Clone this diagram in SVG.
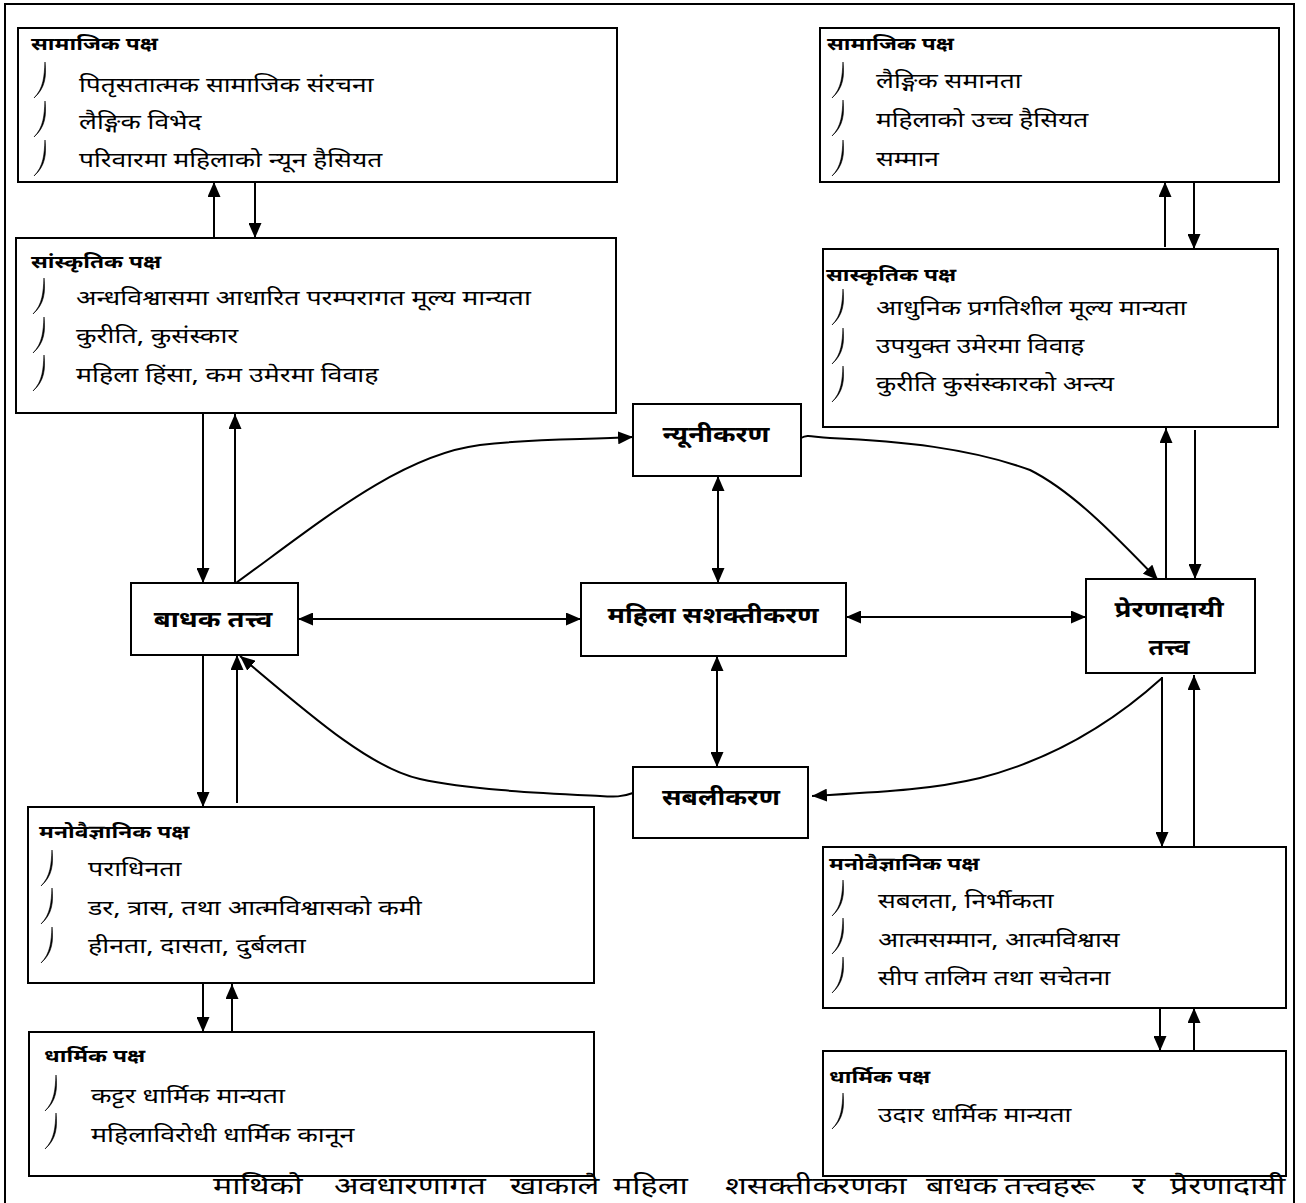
<svg xmlns="http://www.w3.org/2000/svg" width="1306" height="1203" viewBox="0 0 1306 1203">
<style>
.box{fill:#fff;stroke:#000;stroke-width:2}
.t{font-family:"Noto Sans Devanagari","Lohit Devanagari","FreeSans","Noto Sans",sans-serif;font-size:20px;fill:#000}
.h{font-family:"Noto Sans Devanagari","Lohit Devanagari","FreeSans","Noto Sans",sans-serif;font-size:18px;font-weight:bold;fill:#000}
.c{font-family:"Noto Sans Devanagari","Lohit Devanagari","FreeSans","Noto Sans",sans-serif;font-size:22px;font-weight:bold;fill:#000;text-anchor:middle}
.b{font-family:"Noto Sans Devanagari","Lohit Devanagari","FreeSans","Noto Sans",sans-serif;font-size:24px;fill:#000}
.ln{fill:none;stroke:#000;stroke-width:2}
.bul{fill:#000;stroke:#000;stroke-width:0.6}
</style>
<defs>
<marker id="a" viewBox="0 0 15 13" refX="15" refY="6.5" markerWidth="15" markerHeight="13" markerUnits="userSpaceOnUse" orient="auto-start-reverse"><path d="M0,0 L15,6.5 L0,13 z" fill="#000"/></marker>
<path id="bu" d="M11,0 C12.5,14 11.5,26 0,36 C9.8,26 10.2,14 11,0 z" class="bul"/>
</defs>
<rect x="0" y="0" width="1306" height="1203" fill="#fff"/>
<path d="M5,1203 V4 H1294 V1203" class="ln"/>

<g id="connectors">
<path d="M214,238 V182" class="ln" marker-end="url(#a)"/>
<path d="M255,182 V238" class="ln" marker-end="url(#a)"/>
<path d="M1165,247 V182" class="ln" marker-end="url(#a)"/>
<path d="M1194,182 V249" class="ln" marker-end="url(#a)"/>
<path d="M203,413 V583" class="ln" marker-end="url(#a)"/>
<path d="M235,583 V414" class="ln" marker-end="url(#a)"/>
<path d="M203,655 V807" class="ln" marker-end="url(#a)"/>
<path d="M237,803 V655" class="ln" marker-end="url(#a)"/>
<path d="M203,983 V1032" class="ln" marker-end="url(#a)"/>
<path d="M232,1032 V984" class="ln" marker-end="url(#a)"/>
<path d="M1166,578 V428" class="ln" marker-end="url(#a)"/>
<path d="M1195,430 V579" class="ln" marker-end="url(#a)"/>
<path d="M1162,677 V847" class="ln" marker-end="url(#a)"/>
<path d="M1194,847 V675" class="ln" marker-end="url(#a)"/>
<path d="M1160,1008 V1051" class="ln" marker-end="url(#a)"/>
<path d="M1194,1051 V1008" class="ln" marker-end="url(#a)"/>
<path d="M298,619 H581" class="ln" marker-start="url(#a)" marker-end="url(#a)"/>
<path d="M846,617 H1086" class="ln" marker-start="url(#a)" marker-end="url(#a)"/>
<path d="M718,476 V583" class="ln" marker-start="url(#a)" marker-end="url(#a)"/>
<path d="M717,656 V767" class="ln" marker-start="url(#a)" marker-end="url(#a)"/>
<path d="M236,583 C320,522 400,455 480,445 C540,438 580,440 633,437" class="ln" marker-end="url(#a)"/>
<path d="M801,438 C808,434 812,437 830,438 C900,441 970,448 1030,470 C1070,490 1110,530 1158,580" class="ln" marker-end="url(#a)"/>
<path d="M1162,678 C1110,725 1050,760 980,778 C930,790 880,792 812,796" class="ln" marker-end="url(#a)"/>
<path d="M633,793 C622,797 615,797 600,796 C540,793 470,790 420,779 C370,768 310,715 240,656" class="ln" marker-end="url(#a)"/>
</g>

<g id="L1">
<rect x="18" y="28" width="599" height="154" class="box"/>
<text class="h" transform="translate(31,50) scale(1.27,1)">सामाजिक पक्ष</text>
<use href="#bu" x="34" y="62"/><text class="t" transform="translate(79,92) scale(1.32,1)">पितृसतात्मक सामाजिक संरचना</text>
<use href="#bu" x="34" y="101"/><text class="t" transform="translate(79,129) scale(1.32,1)">लैङ्गिक विभेद</text>
<use href="#bu" x="34" y="140"/><text class="t" transform="translate(79,167) scale(1.32,1)">परिवारमा महिलाको न्यून हैसियत</text>
</g>
<g id="R1">
<rect x="820" y="28" width="459" height="154" class="box"/>
<text class="h" transform="translate(827,50) scale(1.27,1)">सामाजिक पक्ष</text>
<use href="#bu" x="832" y="62"/><text class="t" transform="translate(876,88) scale(1.32,1)">लैङ्गिक समानता</text>
<use href="#bu" x="832" y="100"/><text class="t" transform="translate(876,127) scale(1.32,1)">महिलाको उच्च हैसियत</text>
<use href="#bu" x="832" y="140"/><text class="t" transform="translate(876,166) scale(1.32,1)">सम्मान</text>
</g>
<g id="L2">
<rect x="16" y="238" width="600" height="175" class="box"/>
<text class="h" transform="translate(31,268) scale(1.27,1)">सांस्कृतिक पक्ष</text>
<use href="#bu" x="33" y="278"/><text class="t" transform="translate(76,305) scale(1.34,1)">अन्धविश्वासमा आधारित परम्परागत मूल्य मान्यता</text>
<use href="#bu" x="33" y="317"/><text class="t" transform="translate(76,343) scale(1.34,1)">कुरीति, कुसंस्कार</text>
<use href="#bu" x="33" y="355"/><text class="t" transform="translate(76,382) scale(1.34,1)">महिला हिंसा, कम उमेरमा विवाह</text>
</g>
<g id="R2">
<rect x="823" y="249" width="455" height="178" class="box"/>
<text class="h" transform="translate(826,281) scale(1.27,1)">सास्कृतिक पक्ष</text>
<use href="#bu" x="832" y="289"/><text class="t" transform="translate(876,315) scale(1.32,1)">आधुनिक प्रगतिशील मूल्य मान्यता</text>
<use href="#bu" x="832" y="328"/><text class="t" transform="translate(876,353) scale(1.32,1)">उपयुक्त उमेरमा विवाह</text>
<use href="#bu" x="832" y="366"/><text class="t" transform="translate(876,391) scale(1.32,1)">कुरीति कुसंस्कारको अन्त्य</text>
</g>
<g id="badhak">
<rect x="131" y="583" width="167" height="72" class="box"/>
<text class="c" transform="translate(213,627) scale(1.25,1)">बाधक तत्त्व</text>
</g>
<g id="nyunikaran">
<rect x="633" y="404" width="168" height="72" class="box"/>
<text class="c" transform="translate(716,442) scale(1.24,1)">न्यूनीकरण</text>
</g>
<g id="mahila">
<rect x="581" y="583" width="265" height="73" class="box"/>
<text class="c" transform="translate(713,623) scale(1.22,1)">महिला सशक्तीकरण</text>
</g>
<g id="sabalikaran">
<rect x="633" y="767" width="175" height="71" class="box"/>
<text class="c" transform="translate(721,805) scale(1.2,1)">सबलीकरण</text>
</g>
<g id="prerana">
<rect x="1086" y="579" width="169" height="94" class="box"/>
<text class="c" transform="translate(1169,617) scale(1.26,1)">प्रेरणादायी</text>
<text class="c" transform="translate(1169,655) scale(1.15,1)">तत्त्व</text>
</g>
<g id="L3">
<rect x="28" y="807" width="566" height="176" class="box"/>
<text class="h" transform="translate(39,838) scale(1.27,1)">मनोवैज्ञानिक पक्ष</text>
<use href="#bu" x="41" y="850"/><text class="t" transform="translate(88,876) scale(1.34,1)">पराधिनता</text>
<use href="#bu" x="41" y="888"/><text class="t" transform="translate(88,915) scale(1.34,1)">डर, त्रास, तथा आत्मविश्वासको कमी</text>
<use href="#bu" x="41" y="927"/><text class="t" transform="translate(88,953) scale(1.34,1)">हीनता, दासता, दुर्बलता</text>
</g>
<g id="L4">
<rect x="29" y="1032" width="565" height="144" class="box"/>
<text class="h" transform="translate(44,1062) scale(1.27,1)">धार्मिक पक्ष</text>
<use href="#bu" x="45" y="1075"/><text class="t" transform="translate(91,1103) scale(1.34,1)">कट्टर धार्मिक मान्यता</text>
<use href="#bu" x="45" y="1113"/><text class="t" transform="translate(91,1142) scale(1.34,1)">महिलाविरोधी धार्मिक कानून</text>
</g>
<g id="R3">
<rect x="823" y="847" width="463" height="161" class="box"/>
<text class="h" transform="translate(829,870) scale(1.27,1)">मनोवैज्ञानिक पक्ष</text>
<use href="#bu" x="832" y="880"/><text class="t" transform="translate(878,908) scale(1.32,1)">सबलता, निर्भीकता</text>
<use href="#bu" x="832" y="918"/><text class="t" transform="translate(878,947) scale(1.32,1)">आत्मसम्मान, आत्मविश्वास</text>
<use href="#bu" x="832" y="957"/><text class="t" transform="translate(878,985) scale(1.32,1)">सीप तालिम तथा सचेतना</text>
</g>
<g id="R4">
<rect x="823" y="1051" width="463" height="125" class="box"/>
<text class="h" transform="translate(829,1083) scale(1.27,1)">धार्मिक पक्ष</text>
<use href="#bu" x="832" y="1093"/><text class="t" transform="translate(878,1122) scale(1.32,1)">उदार धार्मिक मान्यता</text>
</g>
<text class="b" transform="translate(0,1194) scale(1.34,1)"><tspan x="159">माथिको</tspan><tspan x="249.3">अवधारणागत</tspan><tspan x="380.6">खाकाले</tspan><tspan x="457.5">महिला</tspan><tspan x="541">शसक्तीकरणका</tspan><tspan x="691">बाधक</tspan><tspan x="749.3">तत्त्वहरू</tspan><tspan x="844.8">र</tspan><tspan x="873.1">प्रेरणादायी</tspan></text>
</svg>
